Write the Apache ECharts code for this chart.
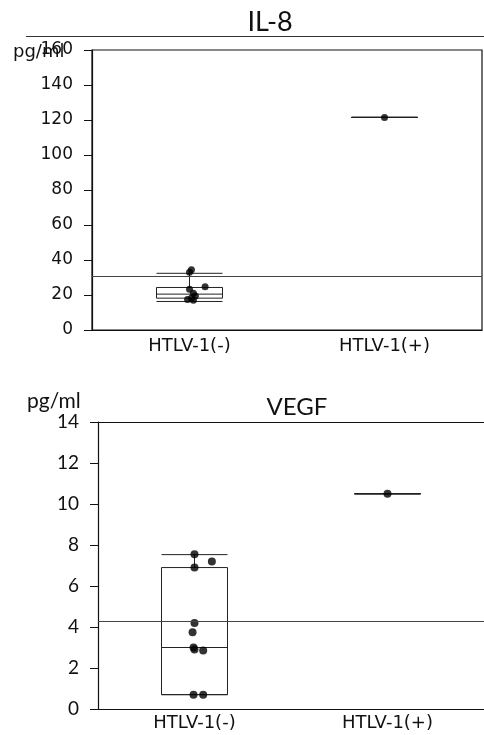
<!DOCTYPE html>
<html>
<head>
<meta charset="utf-8">
<script src="https://cdn.jsdelivr.net/npm/echarts@6/dist/echarts.min.js"></script>
<style>html,body{margin:0;padding:0;background:#fff;overflow:hidden}#c{width:484px;height:735px}</style>
</head>
<body>
<div id="c"></div>
<script>
// ---- data ----
const categories = ['HTLV-1(-)', 'HTLV-1(+)'];

// IL-8 (pg/ml)
const il8Box = [
  [16.3, 18.2, 20.5, 24.3, 32.4],      // HTLV-1(-): min, Q1, median, Q3, max
  [121.5, 121.5, 121.5, 121.5, 121.5]  // HTLV-1(+)
];
const il8PointsNeg = [34.5, 33, 24.7, 23.3, 21, 19.5, 18.3, 17.5, 17];
const il8JitterNeg = [0.01, 0.0, 0.08, 0.0, 0.02, 0.03, 0.01, -0.01, 0.02];
const il8PointsPos = [121.5];
const il8Mean = 31;
const il8Ticks = { min: 0, max: 160, interval: 20 };

// VEGF (pg/ml)
const vegfBox = [
  [0.7, 0.7, 3.0, 6.9, 7.53],
  [10.5, 10.5, 10.5, 10.5, 10.5]
];
const vegfPointsNeg = [7.55, 7.2, 6.9, 4.2, 3.75, 3.0, 2.9, 2.85, 0.7, 0.7];
const vegfJitterNeg = [0.0, 0.09, 0.0, 0.0, -0.01, -0.005, 0.0, 0.045, -0.005, 0.045];
const vegfPointsPos = [10.5];
const vegfMean = 4.28;
const vegfTicks = { min: 0, max: 14, interval: 2 };

// ---- build ----
const chart = echarts.init(document.getElementById('c'));
const tickFontTop = { fontFamily: 'DejaVu Sans', fontSize: 17, color: '#111' };
const tickFontBot = { fontFamily: 'Lato', fontSize: 19, color: '#111' };
const catFont = { fontFamily: 'DejaVu Sans', fontSize: 18, color: '#111' };

function pts(vals, jit, center) {
  return vals.map((v, i) => [center + (jit ? jit[i] : 0), v]);
}

const option = {
  animation: false,
  backgroundColor: '#fff',
  title: [
    { text: 'IL-8', left: 265, top: 4, textAlign: 'center',
      textStyle: { fontFamily: 'Lato', fontSize: 27, fontWeight: 'normal', color: '#111' } },
    { text: 'VEGF', left: 292, top: 390, textAlign: 'center',
      textStyle: { fontFamily: 'Lato', fontSize: 24, fontWeight: 'normal', color: '#111' } },
    { text: 'pg/ml', left: 8, top: 38,
      textStyle: { fontFamily: 'DejaVu Sans', fontSize: 18, fontWeight: 'normal', color: '#111' } },
    { text: 'pg/ml', left: 22, top: 386,
      textStyle: { fontFamily: 'Lato', fontSize: 21, fontWeight: 'normal', color: '#111' } }
  ],
  graphic: [
    { type: 'line', shape: { x1: 26, y1: 36.5, x2: 484, y2: 36.5 },
      style: { stroke: '#333', lineWidth: 1 } }
  ],
  grid: [
    { left: 92, top: 50, width: 390, height: 280, show: true, borderColor: '#111', borderWidth: 1.2, backgroundColor: 'transparent' },
    { left: 98, top: 422, width: 398, height: 287, show: false }
  ],
  xAxis: [
    { type: 'category', gridIndex: 0, data: categories, boundaryGap: true,
      axisLine: { lineStyle: { color: '#111', width: 1.2 } },
      axisTick: { length: 8, lineStyle: { color: '#111' } },
      axisLabel: Object.assign({ margin: 7 }, catFont) },
    { type: 'category', gridIndex: 1, data: categories, boundaryGap: true,
      axisLine: { lineStyle: { color: '#111', width: 1.2 } },
      axisTick: { length: 8, lineStyle: { color: '#111' } },
      axisLabel: Object.assign({ margin: 5 }, catFont) },
    { type: 'value', gridIndex: 0, min: 0, max: 2, show: false },
    { type: 'value', gridIndex: 1, min: 0, max: 2, position: 'top',
      axisLine: { show: true, onZero: false, lineStyle: { color: '#111', width: 1.2 } },
      axisTick: { show: false }, axisLabel: { show: false }, splitLine: { show: false } }
  ],
  yAxis: [
    { type: 'value', gridIndex: 0, min: il8Ticks.min, max: il8Ticks.max, interval: il8Ticks.interval,
      splitLine: { show: false },
      axisLine: { show: true, lineStyle: { color: '#111', width: 1.2 } },
      axisTick: { show: true, length: 8, lineStyle: { color: '#111' } },
      axisLabel: Object.assign({ margin: 19 }, tickFontTop) },
    { type: 'value', gridIndex: 1, min: vegfTicks.min, max: vegfTicks.max, interval: vegfTicks.interval,
      splitLine: { show: false },
      axisLine: { show: true, lineStyle: { color: '#111', width: 1.2 } },
      axisTick: { show: true, length: 8, lineStyle: { color: '#111' } },
      axisLabel: Object.assign({ margin: 19 }, tickFontBot) }
  ],
  series: [
    { type: 'boxplot', xAxisIndex: 0, yAxisIndex: 0, data: il8Box,
      boxWidth: [62, 66],
      itemStyle: { color: 'transparent', borderColor: '#222', borderWidth: 1 },
      markLine: { silent: true, symbol: 'none', label: { show: false },
        lineStyle: { color: '#444', width: 1, type: 'solid' },
        data: [{ yAxis: il8Mean }] } },
    { type: 'scatter', xAxisIndex: 2, yAxisIndex: 0, symbolSize: 7,
      itemStyle: { color: '#000' }, data: pts(il8PointsNeg, il8JitterNeg, 0.5) },
    { type: 'scatter', xAxisIndex: 2, yAxisIndex: 0, symbolSize: 7,
      itemStyle: { color: '#000' }, data: pts(il8PointsPos, null, 1.5) },

    { type: 'boxplot', xAxisIndex: 1, yAxisIndex: 1, data: vegfBox,
      boxWidth: [66, 66],
      itemStyle: { color: 'transparent', borderColor: '#222', borderWidth: 1 },
      markLine: { silent: true, symbol: 'none', label: { show: false },
        lineStyle: { color: '#444', width: 1, type: 'solid' },
        data: [{ yAxis: vegfMean }] } },
    { type: 'scatter', xAxisIndex: 3, yAxisIndex: 1, symbolSize: 8,
      itemStyle: { color: '#000' }, data: pts(vegfPointsNeg, vegfJitterNeg, 0.5) },
    { type: 'scatter', xAxisIndex: 3, yAxisIndex: 1, symbolSize: 8,
      itemStyle: { color: '#000' }, data: pts(vegfPointsPos, null, 1.5) }
  ]
};
chart.setOption(option);
</script>
</body>
</html>
